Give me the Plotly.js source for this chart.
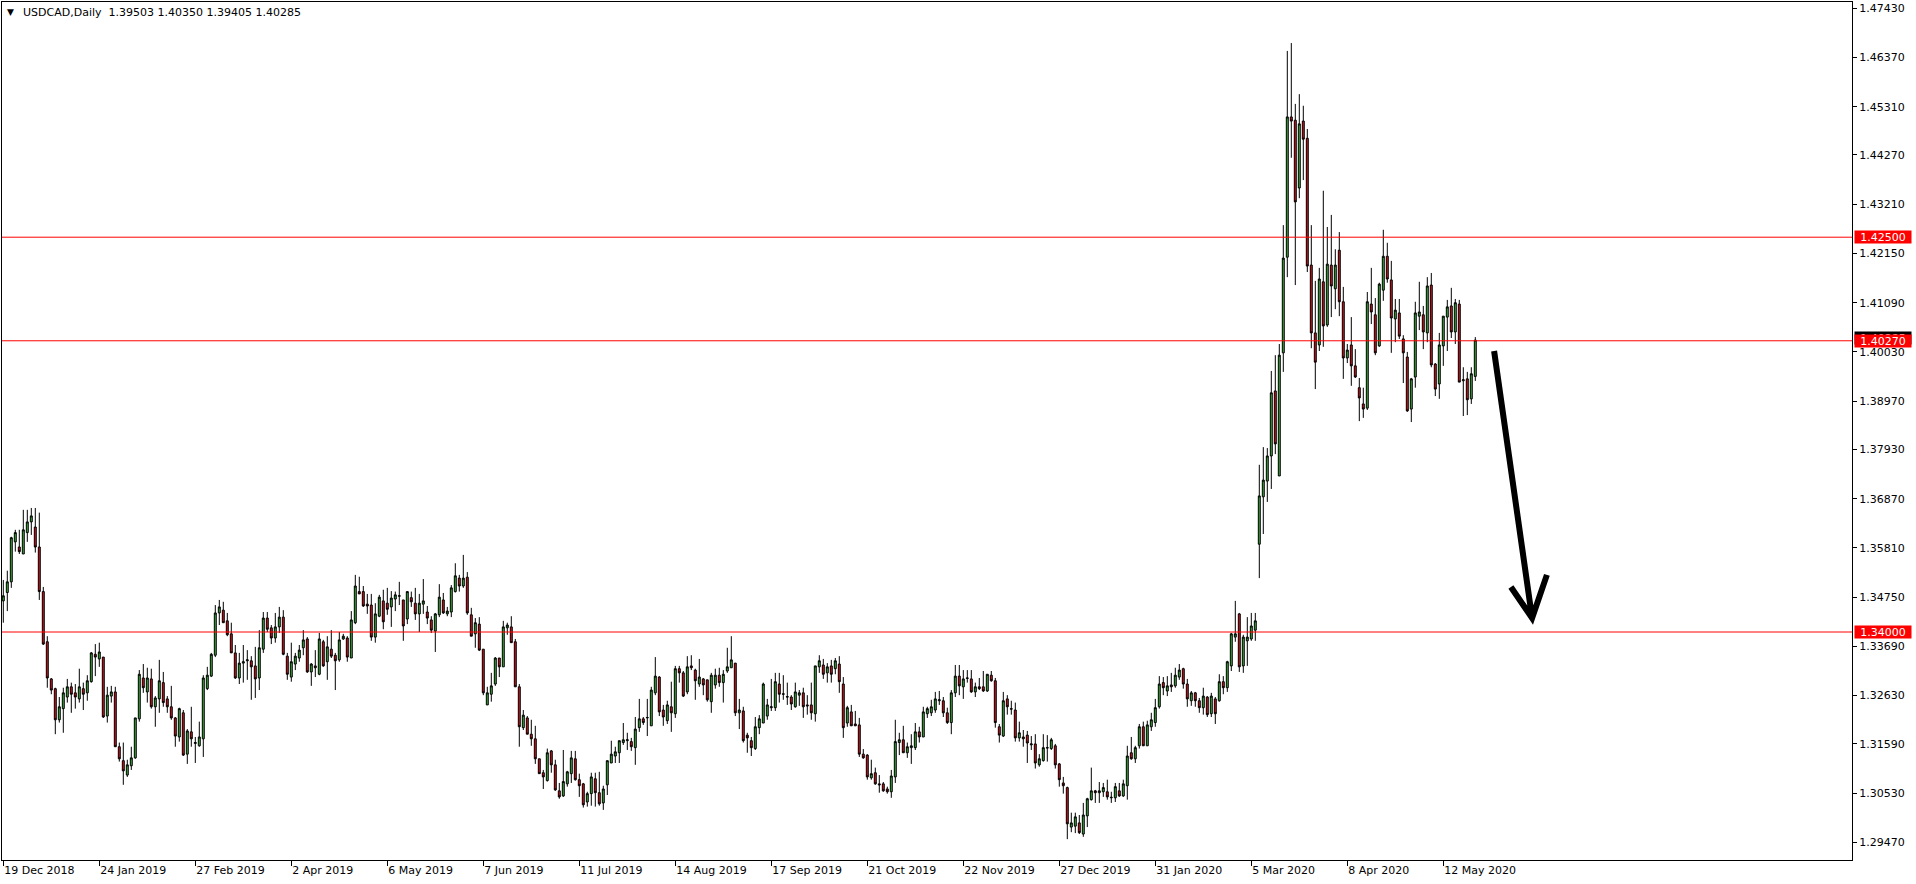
<!DOCTYPE html>
<html><head><meta charset="utf-8">
<script src="https://cdn.plot.ly/plotly-3.0.1.min.js"></script>
<style>html,body{margin:0;padding:0;background:#fff;overflow:hidden}#chart{width:1916px;height:884px}</style>
</head><body><div id="chart"></div>
<script>
const symbolTitle = 'USDCAD,Daily';
const lastBar = [1.39503, 1.40350, 1.39405, 1.40285];
const dateLabels = ['19 Dec 2018','24 Jan 2019','27 Feb 2019','2 Apr 2019','6 May 2019','7 Jun 2019','11 Jul 2019','14 Aug 2019','17 Sep 2019','21 Oct 2019','22 Nov 2019','27 Dec 2019','31 Jan 2020','5 Mar 2020','8 Apr 2020','12 May 2020'];
const barsPerLabel = 24;
const priceTicks = ['1.29470','1.30530','1.31590','1.32630','1.33690','1.34750','1.35810','1.36870','1.37930','1.38970','1.40030','1.41090','1.42150','1.43210','1.44270','1.45310','1.46370','1.47430'];
const levels = [1.42500, 1.40270, 1.34000];

const open = [
1.3467,1.3485,1.3508,1.3594,1.3583,1.3568,1.3614,1.3637,1.3626,1.3583,
1.3487,1.3379,1.3299,1.3278,1.3211,1.3235,1.3260,1.3282,1.3269,1.3256,
1.3278,1.3269,1.3293,1.3352,1.3342,1.3346,1.3219,1.3262,1.3271,1.3153,
1.3123,1.3092,1.3112,1.3129,1.3213,1.3301,1.3271,1.3299,1.3239,1.3256,
1.3291,1.3256,1.3239,1.3215,1.3174,1.3226,1.3137,1.3185,1.3160,1.3155,
1.3170,1.3278,1.3305,1.3350,1.3441,1.3447,1.3424,1.3396,1.3355,1.3301,
1.3333,1.3338,1.3338,1.3327,1.3301,1.3363,1.3430,1.3409,1.3387,1.3411,
1.3432,1.3348,1.3303,1.3331,1.3344,1.3366,1.3385,1.3314,1.3327,1.3309,
1.3379,1.3336,1.3363,1.3350,1.3340,1.3385,1.3387,1.3344,1.3420,1.3487,
1.3487,1.3460,1.3458,1.3389,1.3434,1.3467,1.3462,1.3454,1.3471,1.3477,
1.3469,1.3428,1.3474,1.3462,1.3439,1.3460,1.3443,1.3426,1.3402,1.3437,
1.3469,1.3439,1.3443,1.3487,1.3516,1.3499,1.3518,1.3437,1.3396,1.3417,
1.3363,1.3243,1.3266,1.3288,1.3344,1.3325,1.3409,1.3411,1.3379,1.3282,
1.3194,1.3215,1.3180,1.3170,1.3127,1.3097,1.3080,1.3144,1.3114,1.3058,
1.3047,1.3073,1.3095,1.3127,1.3082,1.3073,1.3034,1.3052,1.3084,1.3054,
1.3032,1.3071,1.3118,1.3133,1.3140,1.3162,1.3166,1.3164,1.3151,1.3194,
1.3213,1.3215,1.3198,1.3269,1.3303,1.3232,1.3209,1.3239,1.3224,1.3321,
1.3312,1.3271,1.3327,1.3318,1.3288,1.3299,1.3297,1.3250,1.3286,1.3307,
1.3291,1.3316,1.3323,1.3333,1.3226,1.3230,1.3178,1.3166,1.3149,1.3194,
1.3204,1.3219,1.3237,1.3237,1.3288,1.3267,1.3261,1.3260,1.3239,1.3264,
1.3269,1.3243,1.3243,1.3224,1.3325,1.3329,1.3312,1.3327,1.3321,1.3331,
1.3288,1.3204,1.3228,1.3202,1.3200,1.3137,1.3135,1.3086,1.3097,1.3073,
1.3073,1.3062,1.3056,1.3088,1.3162,1.3168,1.3140,1.3151,1.3151,1.3185,
1.3174,1.3224,1.3226,1.3232,1.3252,1.3252,1.3226,1.3205,1.3269,1.3305,
1.3282,1.3300,1.3299,1.3271,1.3282,1.3282,1.3273,1.3307,1.3295,1.3196,
1.3176,1.3256,1.3235,1.3232,1.3172,1.3174,1.3178,1.3157,1.3159,1.3114,
1.3123,1.3150,1.3149,1.3155,1.3116,1.3075,1.3065,1.2980,1.2982,1.2989,
1.2965,1.3004,1.3039,1.3058,1.3054,1.3056,1.3056,1.3043,1.3043,1.3058,
1.3047,1.3069,1.3140,1.3127,1.3155,1.3196,1.3155,1.3196,1.3205,1.3239,
1.3291,1.3273,1.3286,1.3284,1.3303,1.3321,1.3288,1.3252,1.3269,1.3252,
1.3237,1.3260,1.3224,1.3256,1.3252,1.3293,1.3280,1.3327,1.3389,1.3439,
1.3327,1.3381,1.3385,1.3404,1.3589,1.3691,1.3725,1.3779,1.3919,1.3736,
1.4001,1.4207,1.4509,1.4502,1.4356,1.4500,1.4463,1.4190,1.4044,1.4018,
1.4154,1.4061,1.4190,1.4139,1.4222,1.4111,1.3990,1.4018,1.3973,1.3926,
1.3891,1.3882,1.4106,1.4083,1.4016,1.4136,1.4209,1.4158,1.4074,1.4087,
1.4031,1.3992,1.3880,1.3949,1.4080,1.4083,1.4044,1.4147,1.3977,1.3934,
1.4016,1.4078,1.4102,1.4046,1.4106,1.3941,1.3945,1.3902,1.39503];

const high = [
1.3512,1.3532,1.3605,1.3620,1.3620,1.3663,1.3663,1.3667,1.3667,1.3657,
1.3497,1.3391,1.3301,1.3280,1.3260,1.3280,1.3299,1.3291,1.3288,1.3321,
1.3291,1.3307,1.3357,1.3374,1.3377,1.3346,1.3282,1.3284,1.3282,1.3162,
1.3162,1.3125,1.3153,1.3215,1.3318,1.3331,1.3323,1.3321,1.3262,1.3340,
1.3314,1.3262,1.3284,1.3217,1.3237,1.3232,1.3191,1.3239,1.3174,1.3207,
1.3307,1.3325,1.3355,1.3458,1.3469,1.3465,1.3441,1.3420,1.3372,1.3355,
1.3372,1.3361,1.3348,1.3368,1.3404,1.3443,1.3443,1.3415,1.3441,1.3454,
1.3447,1.3355,1.3377,1.3355,1.3372,1.3404,1.3389,1.3333,1.3361,1.3398,
1.3383,1.3391,1.3404,1.3355,1.3400,1.3396,1.3391,1.3445,1.3523,1.3519,
1.3499,1.3482,1.3482,1.3462,1.3480,1.3491,1.3495,1.3488,1.3487,1.3508,
1.3469,1.3487,1.3487,1.3495,1.3482,1.3514,1.3456,1.3434,1.3441,1.3503,
1.3484,1.3454,1.3501,1.3548,1.3523,1.3566,1.3529,1.3452,1.3430,1.3432,
1.3363,1.3282,1.3312,1.3346,1.3344,1.3424,1.3420,1.3434,1.3385,1.3288,
1.3232,1.3219,1.3211,1.3198,1.3127,1.3103,1.3149,1.3146,1.3125,1.3075,
1.3146,1.3101,1.3144,1.3144,1.3095,1.3075,1.3056,1.3097,1.3097,1.3099,
1.3069,1.3123,1.3166,1.3153,1.3166,1.3204,1.3183,1.3172,1.3217,1.3256,
1.3217,1.3256,1.3282,1.3346,1.3305,1.3243,1.3252,1.3293,1.3327,1.3327,
1.3316,1.3348,1.3350,1.3321,1.3342,1.3301,1.3297,1.3312,1.3321,1.3323,
1.3318,1.3366,1.3391,1.3333,1.3256,1.3239,1.3183,1.3174,1.3217,1.3221,
1.3291,1.3256,1.3299,1.3312,1.3312,1.3307,1.3291,1.3264,1.3291,1.3275,
1.3280,1.3264,1.3291,1.3327,1.3350,1.3342,1.3333,1.3340,1.3344,1.3348,
1.3303,1.3241,1.3243,1.3230,1.3215,1.3148,1.3137,1.3125,1.3108,1.3092,
1.3077,1.3067,1.3103,1.3211,1.3183,1.3198,1.3162,1.3180,1.3204,1.3196,
1.3239,1.3239,1.3254,1.3271,1.3273,1.3260,1.3237,1.3275,1.3329,1.3329,
1.3318,1.3318,1.3318,1.3291,1.3301,1.3316,1.3309,1.3316,1.3301,1.3202,
1.3271,1.3264,1.3252,1.3248,1.3207,1.3189,1.3187,1.3176,1.3180,1.3137,
1.3180,1.3178,1.3172,1.3159,1.3118,1.3088,1.3067,1.3011,1.3011,1.3006,
1.3032,1.3043,1.3108,1.3060,1.3077,1.3075,1.3082,1.3056,1.3075,1.3075,
1.3082,1.3155,1.3174,1.3155,1.3202,1.3207,1.3209,1.3226,1.3256,1.3305,
1.3303,1.3305,1.3312,1.3323,1.3331,1.3323,1.3299,1.3273,1.3271,1.3258,
1.3280,1.3262,1.3269,1.3260,1.3309,1.3305,1.3338,1.3398,1.3467,1.3441,
1.3394,1.3432,1.3441,1.3441,1.3760,1.3798,1.3796,1.3962,1.3996,1.4020,
1.4276,1.4651,1.4668,1.4537,1.4558,1.4533,1.4483,1.4276,1.4156,1.4184,
1.4350,1.4272,1.4298,1.4224,1.4261,1.4143,1.4020,1.4078,1.4009,1.3947,
1.3926,1.4132,1.4184,1.4119,1.4152,1.4266,1.4238,1.4199,1.4117,1.4117,
1.4039,1.4003,1.3947,1.4111,1.4154,1.4102,1.4164,1.4173,1.3979,1.4044,
1.4080,1.4115,1.4141,1.4117,1.4115,1.3970,1.3960,1.3970,1.40350];

const low = [
1.3420,1.3445,1.3495,1.3573,1.3568,1.3568,1.3594,1.3609,1.3571,1.3469,
1.3372,1.3280,1.3266,1.3180,1.3205,1.3183,1.3248,1.3226,1.3235,1.3248,
1.3232,1.3252,1.3291,1.3305,1.3325,1.3215,1.3205,1.3248,1.3153,1.3121,
1.3071,1.3088,1.3103,1.3127,1.3207,1.3269,1.3248,1.3235,1.3196,1.3226,
1.3239,1.3226,1.3211,1.3153,1.3164,1.3133,1.3116,1.3153,1.3118,1.3153,
1.3131,1.3275,1.3303,1.3346,1.3415,1.3420,1.3391,1.3355,1.3299,1.3288,
1.3291,1.3297,1.3254,1.3258,1.3275,1.3355,1.3400,1.3374,1.3377,1.3398,
1.3350,1.3297,1.3293,1.3318,1.3336,1.3350,1.3312,1.3284,1.3303,1.3307,
1.3325,1.3297,1.3344,1.3275,1.3336,1.3383,1.3336,1.3344,1.3417,1.3482,
1.3454,1.3439,1.3381,1.3377,1.3432,1.3406,1.3437,1.3411,1.3445,1.3458,
1.3381,1.3417,1.3454,1.3426,1.3400,1.3439,1.3417,1.3398,1.3357,1.3432,
1.3439,1.3434,1.3432,1.3485,1.3487,1.3495,1.3437,1.3391,1.3366,1.3359,
1.3264,1.3243,1.3250,1.3284,1.3303,1.3325,1.3394,1.3377,1.3282,1.3153,
1.3189,1.3180,1.3155,1.3116,1.3095,1.3062,1.3078,1.3097,1.3058,1.3041,
1.3045,1.3067,1.3075,1.3080,1.3045,1.3022,1.3024,1.3026,1.3024,1.3026,
1.3017,1.3049,1.3118,1.3118,1.3118,1.3157,1.3146,1.3144,1.3114,1.3185,
1.3200,1.3176,1.3198,1.3264,1.3219,1.3198,1.3202,1.3185,1.3215,1.3291,
1.3260,1.3266,1.3318,1.3254,1.3282,1.3264,1.3250,1.3226,1.3278,1.3282,
1.3248,1.3312,1.3323,1.3219,1.3191,1.3162,1.3140,1.3133,1.3146,1.3180,
1.3204,1.3211,1.3230,1.3230,1.3248,1.3254,1.3243,1.3232,1.3237,1.3241,
1.3215,1.3222,1.3211,1.3207,1.3312,1.3299,1.3291,1.3291,1.3309,1.3269,
1.3172,1.3196,1.3198,1.3198,1.3131,1.3127,1.3082,1.3082,1.3071,1.3054,
1.3056,1.3052,1.3043,1.3075,1.3135,1.3140,1.3129,1.3116,1.3146,1.3162,
1.3174,1.3215,1.3219,1.3226,1.3243,1.3217,1.3202,1.3180,1.3260,1.3264,
1.3256,1.3291,1.3269,1.3260,1.3275,1.3271,1.3271,1.3293,1.3194,1.3162,
1.3174,1.3222,1.3222,1.3164,1.3164,1.3153,1.3118,1.3146,1.3106,1.3110,
1.3121,1.3121,1.3146,1.3106,1.3067,1.3052,1.2954,1.2969,1.2967,1.2965,
1.2959,1.2980,1.3037,1.3032,1.3032,1.3045,1.3039,1.3032,1.3034,1.3045,
1.3045,1.3039,1.3125,1.3118,1.3149,1.3155,1.3155,1.3187,1.3196,1.3235,
1.3264,1.3262,1.3271,1.3280,1.3297,1.3278,1.3239,1.3241,1.3239,1.3226,
1.3222,1.3217,1.3217,1.3202,1.3250,1.3266,1.3271,1.3316,1.3379,1.3314,
1.3312,1.3327,1.3381,1.3381,1.3516,1.3611,1.3680,1.3708,1.3783,1.3736,
1.3960,1.4164,1.4421,1.4147,1.4334,1.4373,1.4175,1.4011,1.3923,1.4005,
1.4014,1.4057,1.4078,1.4095,1.4080,1.3945,1.3979,1.3930,1.3947,1.3854,
1.3861,1.3878,1.4063,1.3996,1.4014,1.4113,1.4152,1.4001,1.4024,1.4031,
1.3936,1.3874,1.3852,1.3926,1.4050,1.4009,1.4024,1.3970,1.3908,1.3902,
1.3973,1.4005,1.4033,1.4020,1.3938,1.3865,1.3867,1.3891,1.39405];

const close = [
1.3478,1.3508,1.3603,1.3614,1.3573,1.3620,1.3637,1.3650,1.3583,1.3487,
1.3374,1.3301,1.3275,1.3211,1.3239,1.3269,1.3282,1.3266,1.3260,1.3282,
1.3266,1.3295,1.3355,1.3346,1.3357,1.3217,1.3264,1.3271,1.3153,1.3127,
1.3101,1.3114,1.3129,1.3215,1.3309,1.3280,1.3301,1.3239,1.3258,1.3295,
1.3248,1.3239,1.3215,1.3176,1.3235,1.3135,1.3187,1.3170,1.3162,1.3174,
1.3301,1.3307,1.3352,1.3441,1.3454,1.3420,1.3394,1.3355,1.3301,1.3333,
1.3336,1.3340,1.3325,1.3299,1.3366,1.3430,1.3406,1.3387,1.3411,1.3432,
1.3352,1.3309,1.3336,1.3348,1.3361,1.3383,1.3314,1.3331,1.3323,1.3385,
1.3327,1.3368,1.3348,1.3338,1.3383,1.3391,1.3346,1.3426,1.3499,1.3482,
1.3456,1.3456,1.3389,1.3439,1.3475,1.3422,1.3449,1.3473,1.3480,1.3478,
1.3413,1.3487,1.3465,1.3439,1.3462,1.3467,1.3430,1.3404,1.3439,1.3475,
1.3441,1.3445,1.3495,1.3521,1.3499,1.3516,1.3441,1.3391,1.3420,1.3361,
1.3269,1.3269,1.3284,1.3344,1.3325,1.3411,1.3415,1.3377,1.3282,1.3196,
1.3221,1.3180,1.3170,1.3127,1.3095,1.3088,1.3140,1.3114,1.3060,1.3045,
1.3078,1.3099,1.3129,1.3082,1.3069,1.3028,1.3052,1.3088,1.3054,1.3030,
1.3062,1.3123,1.3137,1.3142,1.3166,1.3168,1.3168,1.3153,1.3191,1.3213,
1.3205,1.3216,1.3275,1.3305,1.3228,1.3217,1.3243,1.3226,1.3321,1.3312,
1.3262,1.3325,1.3323,1.3295,1.3303,1.3286,1.3254,1.3307,1.3307,1.3291,
1.3309,1.3325,1.3340,1.3226,1.3232,1.3166,1.3172,1.3151,1.3196,1.3213,
1.3288,1.3243,1.3239,1.3293,1.3266,1.3266,1.3260,1.3245,1.3271,1.3269,
1.3239,1.3241,1.3226,1.3327,1.3338,1.3309,1.3325,1.3309,1.3338,1.3293,
1.3194,1.3237,1.3198,1.3198,1.3137,1.3129,1.3088,1.3095,1.3073,1.3071,
1.3058,1.3056,1.3090,1.3164,1.3168,1.3140,1.3153,1.3155,1.3185,1.3174,
1.3228,1.3235,1.3239,1.3256,1.3254,1.3226,1.3205,1.3269,1.3305,1.3284,
1.3299,1.3301,1.3271,1.3282,1.3278,1.3273,1.3309,1.3295,1.3205,1.3178,
1.3252,1.3239,1.3234,1.3172,1.3183,1.3170,1.3161,1.3159,1.3118,1.3127,
1.3151,1.3151,1.3168,1.3114,1.3082,1.3069,1.2987,1.2989,1.3002,1.2968,
1.3006,1.3041,1.3058,1.3054,1.3058,1.3065,1.3045,1.3044,1.3067,1.3047,
1.3073,1.3133,1.3127,1.3151,1.3196,1.3155,1.3200,1.3211,1.3237,1.3288,
1.3280,1.3284,1.3282,1.3307,1.3318,1.3288,1.3256,1.3269,1.3252,1.3237,
1.3262,1.3222,1.3262,1.3224,1.3293,1.3280,1.3336,1.3396,1.3396,1.3325,
1.3389,1.3389,1.3413,1.3424,1.3693,1.3727,1.3779,1.3915,1.3805,1.3996,
1.4205,1.4509,1.4500,1.4326,1.4494,1.4461,1.4188,1.4044,1.3981,1.4160,
1.4059,1.4192,1.4145,1.4190,1.4111,1.3990,1.4007,1.3973,1.3949,1.3904,
1.3880,1.4111,1.4089,1.4001,1.4149,1.4209,1.4160,1.4076,1.4093,1.4037,
1.4001,1.3876,1.3945,1.4087,1.4089,1.4046,1.4145,1.3975,1.3923,1.4018,
1.4080,1.4100,1.4046,1.4109,1.3938,1.3943,1.3900,1.3956,1.40285];

// hand-drawn arrow (bar index, price)
const arrowFrom = [372.7, 1.4005];
const arrowTip = [382.2, 1.3430];
const arrowHeadLeft = [376.9, 1.3497];
const arrowHeadRight = [385.9, 1.3523];

const FONT = 'DejaVu Sans';
const barIndex = open.map((_, i) => i);

const trace = {
  type: 'candlestick',
  x: barIndex, open: open, high: high, low: low, close: close,
  increasing: {fillcolor: '#3DAE3D', line: {color: '#000000', width: 1}},
  decreasing: {fillcolor: '#D0151A', line: {color: '#000000', width: 1}},
  whiskerwidth: 0,
  hoverinfo: 'skip',
  showlegend: false
};

const shapes = levels.map(v => ({
  type: 'line', xref: 'paper', x0: 0, x1: 1, yref: 'y', y0: v, y1: v,
  line: {color: '#FF0000', width: 1}, layer: 'above'
}));
shapes.push({
  type: 'path', xref: 'x', yref: 'y',
  path: 'M' + arrowFrom[0] + ',' + arrowFrom[1] + ' L' + arrowTip[0] + ',' + arrowTip[1] +
        ' M' + arrowHeadLeft[0] + ',' + arrowHeadLeft[1] + ' L' + arrowTip[0] + ',' + arrowTip[1] +
        ' L' + arrowHeadRight[0] + ',' + arrowHeadRight[1],
  line: {color: '#000000', width: 6}
});

const annotations = [];
annotations.push({
  xref: 'paper', yref: 'y', x: 1, y: lastBar[3], xanchor: 'left', yanchor: 'middle',
  xshift: 2, yshift: 2, text: lastBar[3].toFixed(5), showarrow: false,
  bgcolor: '#000000', font: {family: FONT, size: 11, color: '#ffffff'},
  width: 56, height: 12, borderpad: 0, align: 'center'
});
levels.forEach(v => annotations.push({
  xref: 'paper', yref: 'y', x: 1, y: v, xanchor: 'left', yanchor: 'middle',
  xshift: 2, text: v.toFixed(5), showarrow: false,
  bgcolor: '#FF0000', font: {family: FONT, size: 11, color: '#ffffff'},
  width: 56, height: 12, borderpad: 0, align: 'center'
}));
annotations.push({
  xref: 'paper', yref: 'paper', x: 0, y: 1, xanchor: 'left', yanchor: 'middle',
  xshift: 3, yshift: -10, text: '\u25BC', showarrow: false,
  font: {family: FONT, size: 9, color: '#000000'}
});
annotations.push({
  xref: 'paper', yref: 'paper', x: 0, y: 1, xanchor: 'left', yanchor: 'middle',
  xshift: 19, yshift: -10,
  text: symbolTitle + '\u00a0\u00a0' + lastBar.map(v => v.toFixed(5)).join(' '),
  showarrow: false, font: {family: FONT, size: 11, color: '#000000'}
});

const layout = {
  width: 1916, height: 884,
  margin: {l: 2, r: 64, t: 2, b: 24, pad: 0},
  paper_bgcolor: '#ffffff', plot_bgcolor: '#ffffff',
  showlegend: false,
  boxgap: 0.3,
  font: {family: FONT, size: 11, color: '#000000'},
  xaxis: {
    type: 'linear', range: [-0.325, 462.175],
    tickmode: 'array',
    tickvals: dateLabels.map((_, k) => k * barsPerLabel),
    ticktext: dateLabels,
    ticks: 'outside', ticklen: 5, tickwidth: 1, tickcolor: '#000000',
    ticklabelposition: 'outside right',
    tickfont: {family: FONT, size: 11, color: '#000000'},
    showgrid: false, zeroline: false,
    showline: true, mirror: true, linecolor: '#000000', linewidth: 1,
    rangeslider: {visible: false}, fixedrange: true
  },
  yaxis: {
    side: 'right', range: [1.29091, 1.47564],
    tickmode: 'array',
    tickvals: priceTicks.map(Number), ticktext: priceTicks,
    ticks: 'outside', ticklen: 4, tickwidth: 1, tickcolor: '#000000',
    tickfont: {family: FONT, size: 11, color: '#000000'},
    showgrid: false, zeroline: false,
    showline: true, mirror: true, linecolor: '#000000', linewidth: 1,
    fixedrange: true
  },
  shapes: shapes,
  annotations: annotations
};

Plotly.newPlot('chart', [trace], layout, {displayModeBar: false, staticPlot: true});
</script>
</body></html>
